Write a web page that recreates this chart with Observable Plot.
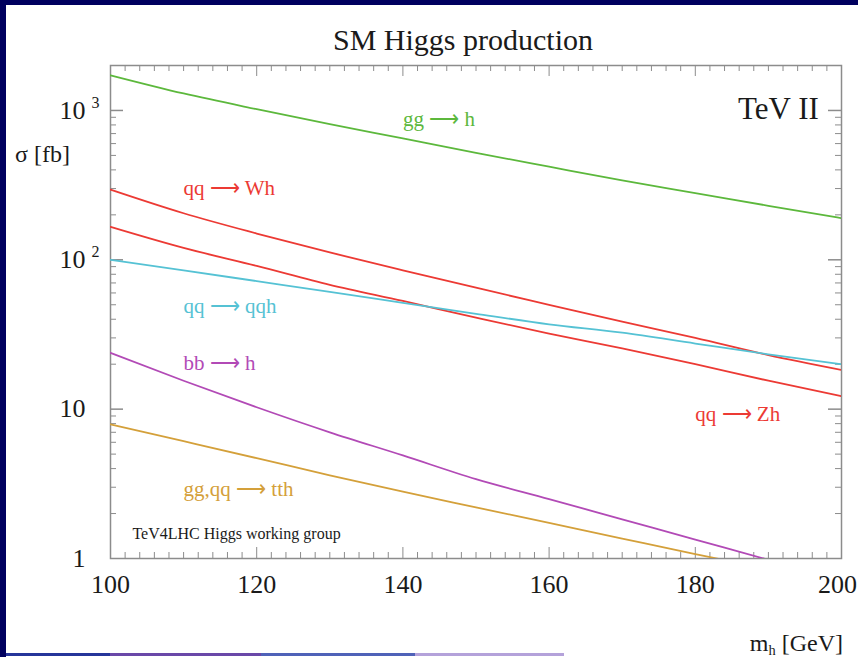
<!DOCTYPE html>
<html>
<head>
<meta charset="utf-8">
<script src="https://cdn.jsdelivr.net/npm/d3@7"></script>
<script src="https://cdn.jsdelivr.net/npm/@observablehq/plot@0.6"></script>
<style>
  html, body { margin: 0; padding: 0; }
  body {
    width: 858px; height: 657px; position: relative; overflow: hidden;
    background: #00005f; font-family: "Liberation Serif", "Times New Roman", serif;
  }
  #panel { position: absolute; left: 6px; top: 5px; right: 0; bottom: 0; background: #fff; }
  #chart { position: absolute; left: 0; top: 0; }
  .lbl { position: absolute; white-space: nowrap; line-height: 1; color: #1a1a1a; }
  #title { left: 263px; width: 400px; top: 25px; font-size: 30px; text-align: center; }
  #ylabel { left: 15px; top: 142px; font-size: 24px; }
  #xlabel { right: 15px; top: 631px; font-size: 24px; }
  #xlabel sub { font-size: 0.6em; vertical-align: -0.25em; }
  .strip { position: absolute; top: 653px; height: 3px; }
</style>
</head>
<body>
<div id="panel"></div>
<div id="chart"></div>
<div class="lbl" id="title">SM Higgs production</div>
<div class="lbl" id="ylabel">σ [fb]</div>
<div class="lbl" id="xlabel">m<sub>h</sub> [GeV]</div>
<div class="strip" style="left:6px;width:104px;background:#26359a"></div>
<div class="strip" style="left:110px;width:151px;background:#6a48a8"></div>
<div class="strip" style="left:261px;width:154px;background:#4f62b8"></div>
<div class="strip" style="left:415px;width:149px;background:#b4a2da"></div>
<script>
// Higgs boson mass points [GeV]
const mH = [100, 110, 120, 130, 140, 150, 160, 170, 180, 190, 200];

// Production cross sections at the Tevatron Run II [fb]
const sigmaGGH = [1720, 1300, 1020, 810, 650, 520, 420, 340, 280, 230, 190];
const sigmaWH  = [295, 205, 150, 112, 85, 65, 50, 38.5, 30, 23, 18.3];
const sigmaZH  = [166, 120, 91, 68, 53, 41, 32, 25.5, 20, 15.5, 12.2];
const sigmaQQH = [100, 85, 72, 61, 51.5, 43.5, 37, 32.5, 27.5, 23.3, 20];
const sigmaBBH = [23.8, 15.5, 10.3, 7.0, 4.9, 3.4, 2.5, 1.83, 1.34, 0.98, 0.72];
const sigmaTTH = [7.9, 6.1, 4.7, 3.6, 2.8, 2.2, 1.73, 1.36, 1.07, 0.85, 0.67];

// Process names
const processNames = ["gg ⟶ h", "qq ⟶ Wh", "qq ⟶ Zh", "qq ⟶ qqh", "bb ⟶ h", "gg,qq ⟶ tth"];

// Axis ticks and labels
const xTicks = [100, 120, 140, 160, 180, 200];
const yTicks = [1, 10, 100, 1000];
const yTickBase = ["1", "10", "10", "10"];
const yTickExp = ["", "", "2", "3"];
const energyLabel = "TeV II";
const creditLabel = "TeV4LHC Higgs working group";

const colors = {
  ggh: "#5cb83c", wh: "#ec3a34", zh: "#ec3a34",
  qqh: "#55c2d4", bbh: "#b24ab6", tth: "#d4a03a"
};

const W = 858, H = 657;
const margin = {top: 65, right: 17, bottom: 99, left: 110};
const innerW = W - margin.left - margin.right;
const innerH = H - margin.top - margin.bottom;
const axisColor = "#8c8c8c";

// minor / major tick positions for the mirrored frame ticks
const xMinor = d3.range(102, 200, 2).filter(v => v % 20 !== 0);
const xMajor = xTicks.slice(1, -1);
const yMinor = [1, 10, 100].flatMap(dec => d3.range(2, 10).map(k => k * dec));
const yMajor = yTicks.slice(1);

const curve = (vals, color) =>
  Plot.line(mH, {x: d => d, y: (d, i) => vals[i], stroke: color, strokeWidth: 1.8,
                 curve: "monotone-x", clip: true});

const label = (text, x, y, color, anchor = "start", size = 21) =>
  Plot.text([text], {x, y, text: d => d, fill: color, textAnchor: anchor,
                     lineAnchor: "bottom", fontSize: size});

const chart = Plot.plot({
  width: W, height: H,
  marginTop: margin.top, marginRight: margin.right,
  marginBottom: margin.bottom, marginLeft: margin.left,
  style: {background: "transparent", fontFamily: "Liberation Serif, serif", color: "#1a1a1a"},
  x: {domain: [100, 200]},
  y: {type: "log", domain: [1, 2000]},
  marks: [
    // inward ticks on all four sides
    Plot.tickX(xMinor, {x: d => d, insetTop: innerH - 6, stroke: axisColor}),
    Plot.tickX(xMajor, {x: d => d, insetTop: innerH - 11, stroke: axisColor}),
    Plot.tickX(xMinor, {x: d => d, insetBottom: innerH - 6, stroke: axisColor}),
    Plot.tickX(xMajor, {x: d => d, insetBottom: innerH - 11, stroke: axisColor}),
    Plot.tickY(yMinor, {y: d => d, insetRight: innerW - 6, stroke: axisColor}),
    Plot.tickY(yMajor, {y: d => d, insetRight: innerW - 13, stroke: axisColor, strokeWidth: 1.5}),
    Plot.tickY(yMinor, {y: d => d, insetLeft: innerW - 6, stroke: axisColor}),
    Plot.tickY(yMajor, {y: d => d, insetLeft: innerW - 13, stroke: axisColor, strokeWidth: 1.5}),
    Plot.frame({stroke: axisColor, strokeWidth: 1.5}),

    // tick labels (the last one is nudged to stay inside the page)
    Plot.axisX({ticks: xTicks.slice(0, -1), tickSize: 0, tickPadding: 16, fontSize: 26, label: null}),
    Plot.axisX({ticks: xTicks.slice(-1), tickSize: 0, tickPadding: 16, fontSize: 26, label: null, dx: -4}),
    Plot.axisY({ticks: yTicks, tickSize: 0, tickPadding: 25, fontSize: 26, label: null,
                tickFormat: d => yTickBase[yTicks.indexOf(d)]}),
    Plot.text(yTicks.filter((d, i) => yTickExp[i]), {
      y: d => d, text: d => yTickExp[yTicks.indexOf(d)], frameAnchor: "left",
      dx: -19, dy: -8, textAnchor: "start", fontSize: 16
    }),

    // cross-section curves
    curve(sigmaGGH, colors.ggh),
    curve(sigmaWH, colors.wh),
    curve(sigmaZH, colors.zh),
    curve(sigmaQQH, colors.qqh),
    curve(sigmaBBH, colors.bbh),
    curve(sigmaTTH, colors.tth),

    // process labels
    label(processNames[0], 140, 781, colors.ggh),
    label(processNames[1], 110, 271, colors.wh),
    label(processNames[2], 180, 8.3, colors.zh),
    label(processNames[3], 110, 44, colors.qqh),
    label(processNames[4], 110, 18.3, colors.bbh),
    label(processNames[5], 110, 2.61, colors.tth),
    label(energyLabel, 196.9, 870, "#1a1a1a", "end", 31),
    label(creditLabel, 103, 1.36, "#1a1a1a", "start", 16)
  ]
});

document.getElementById("chart").appendChild(chart);
</script>
</body>
</html>
